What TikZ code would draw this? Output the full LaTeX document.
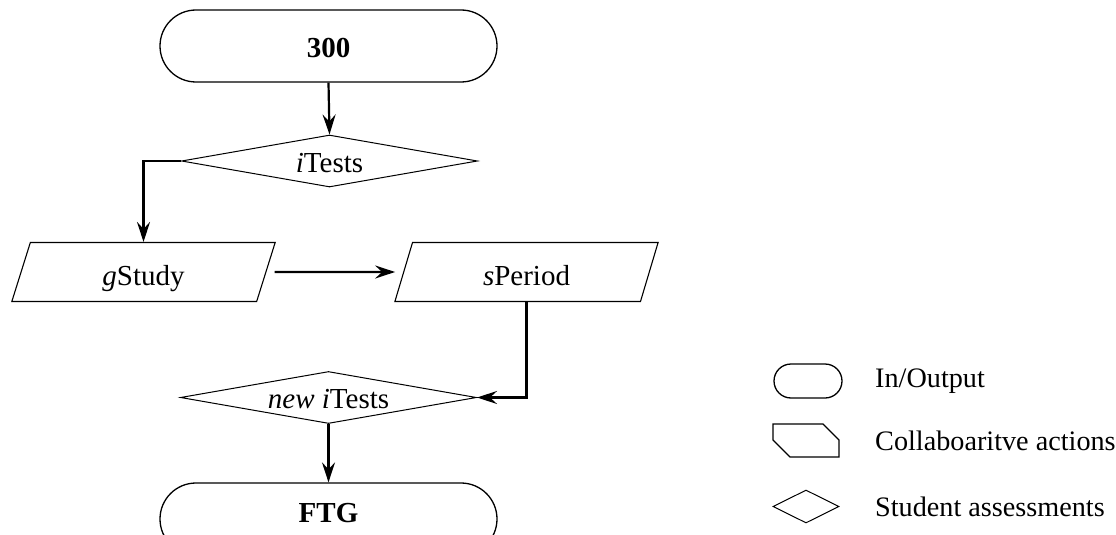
\documentclass[tikz,border=0pt]{standalone}
\usepackage{fontspec}
\setmainfont{Liberation Serif}
\usetikzlibrary{arrows.meta,shapes.geometric}

\newcommand{\chartfont}{\fontsize{29}{34}\selectfont}
\newcommand{\keyfont}{\fontsize{28.2}{33}\selectfont}

\tikzset{
  base/.style={draw, line width=1.3pt, inner sep=0pt, font=\chartfont},
  terminal/.style={base, rectangle, rounded corners=36pt, minimum width=337pt,
    minimum height=72pt, font=\chartfont\bfseries, text height=24pt, text depth=0pt},
  test/.style={base, diamond, aspect=5.7, minimum width=296pt, minimum height=52pt,
    line width=1pt, text height=22pt, text depth=0pt},
  study/.style={base, trapezium, trapezium left angle=75.5, trapezium right angle=104.5,
    trapezium stretches=true, minimum width=265pt, minimum height=59pt, line width=1.1pt,
    text height=26pt, text depth=0pt},
  flow/.style={line width=2.2pt, -{Stealth[length=20pt, width=13pt, inset=7pt]}},
  legtext/.style={anchor=base west, inner sep=0pt, font=\keyfont},
}

\begin{document}
\begin{tikzpicture}[x=1pt, y=-1pt]
  \useasboundingbox (0,0) rectangle (1116,535);
  \clip (0,0) rectangle (1116,535);

  % flow chart
  \node[terminal] (start) at (328.5,46) {300};
  \node[test] (it) at (329.5,161) {\textit{i}Tests};
  \node[study] (gs) at (143.5,272) {\textit{g}Study};
  \node[study] (sp) at (526.5,272) {\textit{s}Period};
  \node[test] (nit) at (328.5,397.5) {\textit{new i}Tests};
  \node[terminal, text height=6pt] (ftg) at (328.5,519) {FTG};

  \draw[flow] (start.south) -- (it.north);
  \draw[flow] (it.west) -| (gs.north);
  \draw[flow] ([xshift=8pt]gs.east) -- ([xshift=-8pt]sp.west);
  \draw[flow] (sp.south) |- (nit.east);
  \draw[flow] (nit.south) -- (ftg.north);

  % legend
  \node[base, rectangle, rounded corners=17pt, minimum width=68pt, minimum height=34pt] (lio) at (808,381) {};
  \draw[line width=1.1pt] (773,424) -- (823,424) -- (839,440) -- (839,457) -- (790,457) -- (773,440) -- cycle;
  \node[base, diamond, aspect=2, minimum width=66pt, minimum height=33pt, line width=1pt] (lsa) at (806,506.5) {};

  \node[legtext] (tio) at (875,387) {In/Output};
  \node[legtext] (tca) at (875,450) {Collaboaritve actions};
  \node[legtext] (tsa) at (875,516) {Student assessments};
\end{tikzpicture}
\end{document}
